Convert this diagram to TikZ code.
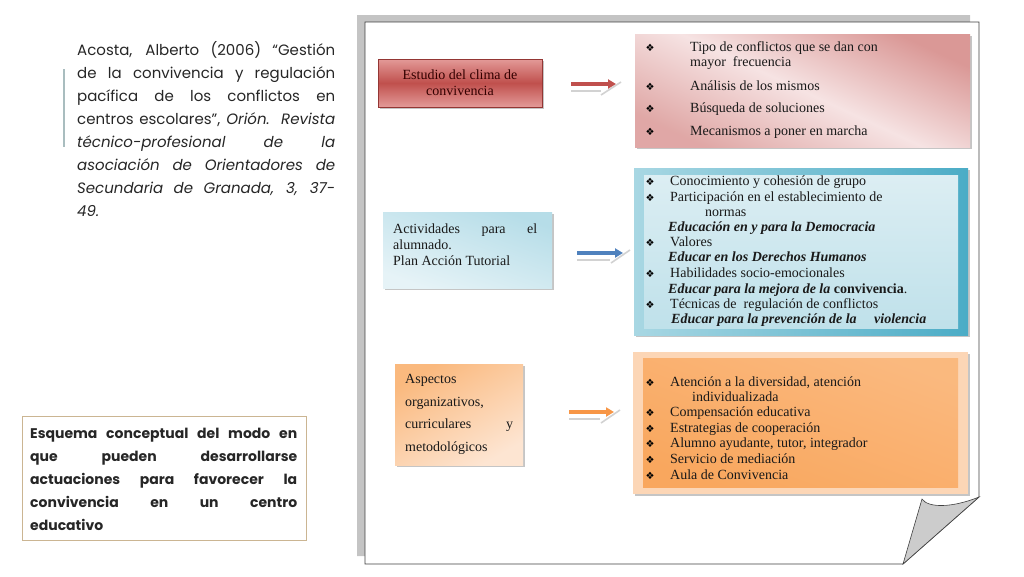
\documentclass[tikz,border=0pt]{standalone}
\usepackage{fontspec}
\setmainfont{Liberation Serif}
\newfontfamily\gothic{Poppins}
\newfontfamily\dejavu{DejaVu Sans}
\usetikzlibrary{calc,shadows,arrows.meta}

\definecolor{pageshade}{HTML}{C4C4C4}
\definecolor{redmid}{HTML}{C0504D}
\definecolor{redlight}{HTML}{E39A98}
\definecolor{reddark}{HTML}{943634}
\definecolor{pinkdark}{HTML}{DA9896}
\definecolor{pinklight}{HTML}{F6E3E3}
\definecolor{bluelight}{HTML}{E6F3F7}
\definecolor{bluemid}{HTML}{B6DDE8}
\definecolor{teal}{HTML}{4BACC6}
\definecolor{tealpale}{HTML}{A8D7E3}
\definecolor{bluein}{HTML}{DCEEF3}
\definecolor{orangepale}{HTML}{FDE5D2}
\definecolor{orangemid}{HTML}{FAB97E}
\definecolor{orangein}{HTML}{F9A75E}
\definecolor{orangerim}{HTML}{FCD6B6}
\definecolor{arrowblue}{HTML}{4F81BD}
\definecolor{arroworange}{HTML}{F79646}
\definecolor{tan}{HTML}{CBB592}
\definecolor{barcol}{HTML}{A9BDBF}

\tikzset{
  box/.style={inner sep=0, drop shadow={shadow xshift=2pt,shadow yshift=-2pt,opacity=.45}},
  li/.style={anchor=base west, inner sep=0, text=black!90, font=\fontsize{14}{16}\selectfont},
  bi/.style={li, font=\fontsize{14}{16}\selectfont\bfseries\itshape},
  bul/.style={anchor=base, inner sep=0, font=\dejavu\fontsize{10}{10}\selectfont},
  reftext/.style={anchor=base west, inner sep=0, text=black!85, font=\gothic\fontsize{15}{18}\selectfont},
  esq/.style={anchor=base west, inner sep=0, text=black!85, font=\gothic\bfseries\fontsize{14}{18}\selectfont},
  shd/.style={line width=1.6pt, gray!35}
}

\begin{document}
\begin{tikzpicture}[x=1pt,y=-1pt]
\useasboundingbox (0,0) rectangle (1024,576);
% reference
\draw[barcol, line width=1.6pt] (64,69) -- (64,147);
\node[reftext] (ref1) at (77,55) {\makebox[258pt][s]{Acosta, Alberto (2006) “Gestión}};
\node[reftext] (ref2) at (77,78) {\makebox[258pt][s]{de la convivencia y regulación}};
\node[reftext] (ref3) at (77,101) {\makebox[258pt][s]{pacífica de los conflictos en}};
\node[reftext] (ref4) at (77,124) {\makebox[258pt][s]{centros escolares”, \textit{Orión. Revista}}};
\node[reftext] (ref5) at (77,147) {\makebox[258pt][s]{\textit{técnico-profesional de la}}};
\node[reftext] (ref6) at (77,170) {\makebox[258pt][s]{\textit{asociación de Orientadores de}}};
\node[reftext] (ref7) at (77,193) {\makebox[258pt][s]{\textit{Secundaria de Granada, 3, 37-}}};
\node[reftext] (ref8) at (77,216) {\textit{49.}};
% caption box
\draw[tan, line width=0.8pt] (22,416) rectangle (306,540);
\node[esq] (esq1) at (30,438) {\makebox[267pt][s]{Esquema conceptual del modo en}};
\node[esq] (esq2) at (30,461) {\makebox[267pt][s]{que pueden desarrollarse}};
\node[esq] (esq3) at (30,484) {\makebox[267pt][s]{actuaciones para favorecer la}};
\node[esq] (esq4) at (30,507) {\makebox[267pt][s]{convivencia en un centro}};
\node[esq] (esq5) at (30,530) {educativo};
% page
\fill[pageshade] (357,15) -- (970,15) -- (970,22) -- (365,22) -- (365,556) -- (357,556) -- cycle;
\filldraw[fill=white, draw=black!75, line width=0.8pt] (365,22) -- (979,22) -- (979,497) -- (903,564) -- (365,564) -- cycle;
\filldraw[fill=gray!40, draw=black!75, line width=0.6pt] (903,564) -- (922,499) .. controls (928,508) and (952,508) .. (979,497) -- cycle;
% row 1
\node[box, draw=reddark, top color=redlight, bottom color=redlight, middle color=redmid, minimum width=164, minimum height=48, align=center, text=black!80!red, font=\fontsize{14}{16}\selectfont] (clima) at (460,83) {Estudio del clima de\\convivencia};
\node[box, top color=pinkdark, bottom color=pinkdark!85!white, middle color=pinklight, shading angle=-25, minimum width=335, minimum height=113] (tipos) at (802.5,90.5) {};
\coordinate (r1) at (571,84); \coordinate (r2) at (616,84);
\draw[shd] ($(r1)+(0,7)$) -- ++(30,0);
\draw[shd] ($(r2)+(-15,11)$) -- ($(r2)+(5,-2)$);
\draw[redmid, line width=3.5pt, -{Triangle[length=8pt,width=9pt]}] (r1) -- (r2);
\node[bul] (tb1) at (650,51) {❖}; \node[li] (t1) at (690,51) {Tipo de conflictos que se dan con};
\node[li] (t1b) at (690,66) {mayor \ frecuencia};
\node[bul] (tb2) at (650,90) {❖}; \node[li] (t2) at (690,90) {Análisis de los mismos};
\node[bul] (tb3) at (650,112) {❖}; \node[li] (t3) at (690,112) {Búsqueda de soluciones};
\node[bul] (tb4) at (650,135) {❖}; \node[li] (t4) at (690,135) {Mecanismos a poner en marcha};
% row 2
\node[box, top color=bluemid, bottom color=bluelight, shading angle=-20, minimum width=169, minimum height=76] (activ) at (467.5,250) {};
\node[li] (a1) at (393,233) {\makebox[144pt][s]{Actividades para el}};
\node[li] (a2) at (393,249) {alumnado.};
\node[li] (a3) at (393,265) {Plan Acción Tutorial};
\node[box, left color=tealpale, right color=teal, minimum width=334, minimum height=167] (plan) at (801,251.5) {};
\node[inner sep=0, top color=bluein, bottom color=bluein!80!teal, minimum width=314, minimum height=153] (planin) at (801,251.5) {};
\coordinate (b1) at (577,253); \coordinate (b2) at (623,253);
\draw[shd] ($(b1)+(0,7)$) -- ++(33,0);
\draw[shd] ($(b2)+(-12,10)$) -- ($(b2)+(7,-3)$);
\draw[arrowblue, line width=3.5pt, -{Triangle[length=8pt,width=9pt]}] (b1) -- (b2);
\node[bul] (pb1) at (650,185) {❖}; \node[li] (p1) at (670,185) {Conocimiento y cohesión de grupo};
\node[bul] (pb2) at (650,201) {❖}; \node[li] (p2) at (670,201) {Participación en el establecimiento de};
\node[li] (p2b) at (705,216) {normas};
\node[bi] (p2c) at (668,231) {Educación en y para la Democracia};
\node[bul] (pb3) at (650,246) {❖}; \node[li] (p3) at (670,246) {Valores};
\node[bi] (p3b) at (668,261) {Educar en los Derechos Humanos};
\node[bul] (pb4) at (650,277) {❖}; \node[li] (p4) at (670,277) {Habilidades socio-emocionales};
\node[bi] (p4b) at (668,293) {Educar para la mejora de la \textup{convivencia}\textmd{\textup{.}}};
\node[bul] (pb5) at (650,308) {❖}; \node[li] (p5) at (670,308) {Técnicas de \ regulación de conflictos};
\node[bi] (p5b) at (671,323) {Educar para la prevención de la \quad violencia};
% row 3
\node[box, top color=orangemid, bottom color=orangepale, shading angle=30, minimum width=128, minimum height=101] (aspec) at (459,414.5) {};
\node[li] (o1) at (405,383) {Aspectos};
\node[li] (o2) at (405,406) {organizativos,};
\node[li] (o3) at (405,428) {\makebox[108pt][s]{curriculares y}};
\node[li] (o4) at (405,451) {metodológicos};
\node[box, fill=orangerim, minimum width=335, minimum height=142] (atenc) at (800.5,423) {};
\node[inner sep=0, top color=orangein!80!white, bottom color=orangein, shading angle=-20, minimum width=315, minimum height=129] (atencin) at (800.5,422.5) {};
\coordinate (c1) at (569,412); \coordinate (c2) at (614,412);
\draw[shd] ($(c1)+(0,7)$) -- ++(31,0);
\draw[shd] ($(c2)+(-13,11)$) -- ($(c2)+(6,-2)$);
\draw[arroworange, line width=3.5pt, -{Triangle[length=8pt,width=9pt]}] (c1) -- (c2);
\node[bul] (ob1) at (650,386) {❖}; \node[li] (q1) at (670,386) {Atención a la diversidad, atención};
\node[li] (q1b) at (692,401) {individualizada};
\node[bul] (ob2) at (650,416) {❖}; \node[li] (q2) at (670,416) {Compensación educativa};
\node[bul] (ob3) at (650,432) {❖}; \node[li] (q3) at (670,432) {Estrategias de cooperación};
\node[bul] (ob4) at (650,447) {❖}; \node[li] (q4) at (670,447) {Alumno ayudante, tutor, integrador};
\node[bul] (ob5) at (650,463) {❖}; \node[li] (q5) at (670,463) {Servicio de mediación};
\node[bul] (ob6) at (650,479) {❖}; \node[li] (q6) at (670,479) {Aula de Convivencia};
\end{tikzpicture}
\end{document}
